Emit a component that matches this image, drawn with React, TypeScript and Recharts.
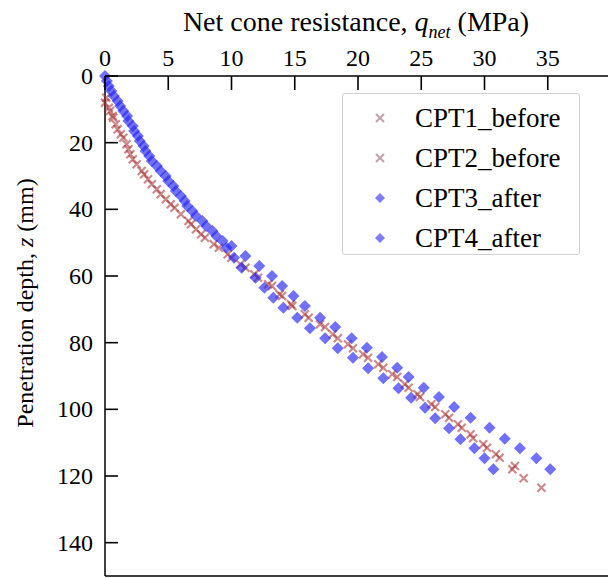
import { ScatterChart, Scatter, XAxis, YAxis, ReferenceLine } from "recharts";

// depth z (mm) and net cone resistance q (MPa) per test
const cpt1Z = [8, 10.5, 12.5, 16, 18.5, 22, 25, 28.5, 31, 34, 37, 39.5, 43.5, 46, 48.5, 51.5, 54.5, 57.5, 60.5, 63, 66, 69, 72.5, 75.3, 78.7, 81.7, 84.5, 87.5, 90.3, 93.5, 96.3, 99.3, 102.5, 105.5, 108.7, 111.5, 114.5, 118, 120.7, 123.5];
const cpt1Q = [0, 0.4, 0.65, 1.0, 1.45, 1.85, 2.2, 2.9, 3.4, 4.1, 4.8, 5.5, 6.6, 7.2, 7.9, 9.0, 10.0, 11.1, 12.1, 13.2, 14.0, 14.8, 16.1, 17.4, 18.4, 19.6, 20.8, 22.0, 23.1, 24.0, 24.9, 26.1, 27.2, 28.2, 29.1, 30.2, 31.2, 32.2, 33.1, 34.5];

const cpt2Z = [6.5, 9.5, 12, 14.5, 17.5, 20.5, 23.5, 26.5, 29.5, 32.5, 35.5, 38.5, 41.5, 44.5, 47.5, 50.5, 53.5, 56.5, 59.5, 62.5, 65.5, 68.5, 71.5, 74.5, 77.5, 80.5, 83.5, 86.5, 89.5, 92.5, 95.5, 98.5, 101.5, 104.5, 107.5, 110.5, 113.5, 117];
const cpt2Q = [0.1, 0.3, 0.6, 0.85, 1.25, 1.7, 2.0, 2.5, 3.1, 3.7, 4.4, 5.2, 6.0, 6.8, 7.6, 8.6, 9.7, 10.7, 11.8, 12.9, 13.8, 14.7, 15.8, 17.0, 18.0, 19.2, 20.4, 21.6, 22.7, 23.7, 24.7, 25.8, 26.9, 27.9, 28.9, 29.9, 30.9, 32.4];

const cpt3Z = [0, 3, 6, 9, 12, 15, 18, 21, 24, 27, 30, 33, 36, 39, 42, 45, 48, 51.5, 54.5, 57.5, 60.5, 63.5, 66.5, 69.5, 72.5, 75.7, 78.7, 81.7, 84.5, 87.7, 90.7, 93.7, 96.5, 99.5, 102.7, 105.7, 109, 111.7, 114.7, 118];
const cpt3Q = [0, 0.3, 0.7, 1.2, 1.75, 2.2, 2.6, 3.05, 3.5, 4.1, 4.8, 5.4, 6.0, 6.5, 7.2, 8.0, 8.8, 9.6, 10.2, 10.8, 11.9, 12.6, 13.3, 14.1, 15.2, 16.2, 17.4, 18.4, 19.6, 20.8, 22.0, 23.2, 24.2, 25.3, 26.1, 27.2, 28.1, 29.2, 30.0, 30.7];

const cpt4Z = [1.5, 4.5, 7.5, 10.5, 13.5, 16.5, 19.5, 22.5, 25.5, 28.5, 31.5, 34.5, 37.5, 40.5, 43.5, 46.5, 49.5, 51, 54, 57, 60, 63, 66, 69, 72.5, 75.3, 78.7, 81.5, 84.3, 87.5, 90.3, 93.5, 96.3, 99.3, 102.5, 105.5, 108.8, 111.7, 114.7, 118];
const cpt4Q = [0.15, 0.5, 1.0, 1.45, 1.85, 2.3, 2.75, 3.2, 3.7, 4.4, 5.0, 5.6, 6.3, 6.9, 7.7, 8.5, 9.3, 10.0, 11.1, 12.2, 13.2, 14.0, 14.9, 15.8, 17.0, 18.2, 19.5, 20.7, 21.9, 23.1, 24.0, 25.2, 26.4, 27.6, 28.9, 30.4, 31.6, 32.8, 34.1, 35.2];

const xTicks = [0, 5, 10, 15, 20, 25, 30, 35];
const yTicks = [0, 20, 40, 60, 80, 100, 120, 140];

const toPoints = (z: number[], q: number[]) => z.map((d, i) => ({ q: q[i], z: d }));

const FONT = "Liberation Serif";
const CROSS = "#a52a2a";
const BLUE = "#2424f4";

function Cross({ cx, cy }: any) {
  const s = 4;
  return (
    <path d={`M${cx - s},${cy - s}L${cx + s},${cy + s}M${cx - s},${cy + s}L${cx + s},${cy - s}`}
      stroke={CROSS} strokeWidth={2.2} strokeOpacity={0.55} fill="none" />
  );
}

function Diamond({ cx, cy }: any) {
  const s = 6;
  return (
    <path d={`M${cx},${cy - s}L${cx + s},${cy}L${cx},${cy + s}L${cx - s},${cy}Z`}
      fill={BLUE} fillOpacity={0.65} />
  );
}

// tick mark (pointing into the plot) + label
function TopTick({ x, y, payload }: any) {
  return (
    <g>
      <line x1={x} x2={x} y1={y} y2={y + 14} stroke="#000" strokeWidth={1.6} />
      <text x={x} y={y - 10} textAnchor="middle" fontFamily={FONT} fontSize={24} fill="#000">{payload.value}</text>
    </g>
  );
}

function LeftTick({ x, y, payload }: any) {
  return (
    <g>
      <line x1={x} x2={x + 13} y1={y} y2={y} stroke="#000" strokeWidth={1.6} />
      <text x={x - 12} y={y + 8} textAnchor="end" fontFamily={FONT} fontSize={24} fill="#000">{payload.value}</text>
    </g>
  );
}

const legendRows = [
  { name: "CPT1_before", kind: "x" },
  { name: "CPT2_before", kind: "x" },
  { name: "CPT3_after", kind: "d" },
  { name: "CPT4_after", kind: "d" },
];

function LegendBox() {
  return (
    <div style={{ position: "absolute", left: 342, top: 93, width: 236, height: 160, border: "1px solid #d0d0d0", borderRadius: 3, background: "#fff", fontFamily: FONT }}>
      {legendRows.map((r, i) => (
        <div key={r.name} style={{ position: "absolute", left: 0, top: 8 + i * 40, height: 32, display: "flex", alignItems: "center" }}>
          <svg width={70} height={32}>
            {r.kind === "x" ? (
              <path d="M33,12L41,20M33,20L41,12" stroke="#a06070" strokeWidth={2} strokeOpacity={0.6} />
            ) : (
              <path d="M37,11L42,16L37,21L32,16Z" fill={BLUE} fillOpacity={0.6} />
            )}
          </svg>
          <span style={{ fontSize: 27, marginLeft: 2, color: "#000", whiteSpace: "nowrap" }}>{r.name}</span>
        </div>
      ))}
    </div>
  );
}

export default function App() {
  return (
    <div style={{ position: "fixed", left: 0, top: 0, width: 608, height: 578, overflow: "hidden", background: "#fff", fontFamily: FONT }}>
      <ScatterChart width={611} height={578} margin={{ top: 0, right: 0, left: 0, bottom: 2 }}>
        <XAxis type="number" dataKey="q" orientation="top" domain={[0, 40]} ticks={xTicks} height={76}
          axisLine={{ stroke: "#000", strokeWidth: 1.5 }} tickLine={false} tickSize={0} tickMargin={0} tick={<TopTick />} />
        <YAxis type="number" dataKey="z" reversed domain={[0, 150]} ticks={yTicks} width={105}
          axisLine={{ stroke: "#000", strokeWidth: 1.5 }} tickLine={false} tickSize={0} tickMargin={0} tick={<LeftTick />} />
        <ReferenceLine y={150} stroke="#000" strokeWidth={1.5} />
        <Scatter name="CPT1_before" data={toPoints(cpt1Z, cpt1Q)} shape={<Cross />} isAnimationActive={false} />
        <Scatter name="CPT2_before" data={toPoints(cpt2Z, cpt2Q)} shape={<Cross />} isAnimationActive={false} />
        <Scatter name="CPT3_after" data={toPoints(cpt3Z, cpt3Q)} shape={<Diamond />} isAnimationActive={false} />
        <Scatter name="CPT4_after" data={toPoints(cpt4Z, cpt4Q)} shape={<Diamond />} isAnimationActive={false} />
      </ScatterChart>
      <LegendBox />
      <div style={{ position: "absolute", left: 0, width: 712, top: 6, textAlign: "center", fontSize: 28, whiteSpace: "nowrap" }}>
        Net cone resistance, <i>q</i><sub style={{ fontSize: 18 }}><i>net</i></sub> (MPa)
      </div>
      <div style={{ position: "absolute", left: 25, top: 303, transform: "translate(-50%, -50%) rotate(-90deg)", fontSize: 24, whiteSpace: "nowrap" }}>
        Penetration depth, <i>z</i> (mm)
      </div>
    </div>
  );
}
